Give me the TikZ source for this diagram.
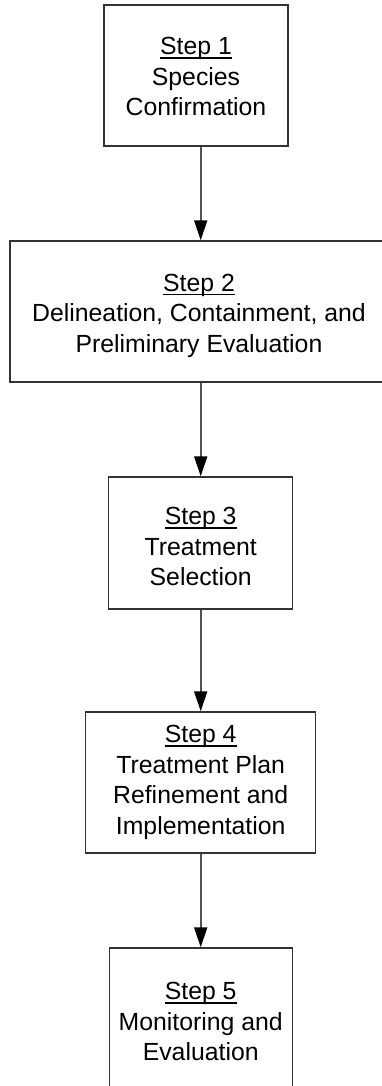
\documentclass[tikz,border=0pt]{standalone}
\usepackage{fontspec}
\setmainfont{Liberation Sans}
\usetikzlibrary{arrows.meta}

% underlined step heading with an Arial-like underline position
\newcommand\steptitle[1]{\setbox0\hbox{#1}\rlap{\rule[-4.3pt]{\wd0}{1.6pt}}\box0}

\begin{document}
\begin{tikzpicture}[x=1pt,y=-1pt,
  stepbox/.style={draw=black!80,line width=1.4pt,rectangle,inner sep=0pt},
  steptext/.style={anchor=north,inner sep=0pt,align=center,
    font=\fontsize{24.8}{30.5}\selectfont},
  conn/.style={draw=black!68,line width=1.8pt,
    -{Triangle[length=20pt,width=13pt,color=black]}}]
  \useasboundingbox (0,0) rectangle (382,1086);
  \clip (0,0) rectangle (382,1086);

  % boxes (step 2 runs past the right edge, step 5 past the bottom)
  \node[stepbox,minimum width=184pt,minimum height=141pt] (b1) at (196,75.5) {};
  \node[stepbox,minimum width=400pt,minimum height=141pt] (b2) at (210,311.5) {};
  \node[stepbox,minimum width=184pt,minimum height=132pt] (b3) at (200.7,543) {};
  \node[stepbox,minimum width=230pt,minimum height=141pt] (b4) at (200.7,782.5) {};
  \node[stepbox,minimum width=183pt,minimum height=140pt] (b5) at (200.7,1018) {};

  % box texts
  \node[steptext] (t1) at (196,37) {\steptitle{Step 1}\\Species\\Confirmation};
  \node[steptext] (t2) at (199,273.5) {\steptitle{Step 2}\\Delineation, Containment, and\\Preliminary Evaluation};
  \node[steptext] (t3) at (200.7,507) {\steptitle{Step 3}\\Treatment\\Selection};
  \node[steptext] (t4) at (200.7,725) {\steptitle{Step 4}\\Treatment Plan\\Refinement and\\Implementation};
  \node[steptext] (t5) at (200.7,982) {\steptitle{Step 5}\\Monitoring and\\Evaluation};

  % connectors
  \draw[conn] (b1.south -| b3.north) -- (b2.north -| b3.north);
  \draw[conn] (b2.south -| b3.north) -- (b3.north);
  \draw[conn] (b3.south) -- (b4.north);
  \draw[conn] (b4.south) -- (b5.north);
\end{tikzpicture}
\end{document}
